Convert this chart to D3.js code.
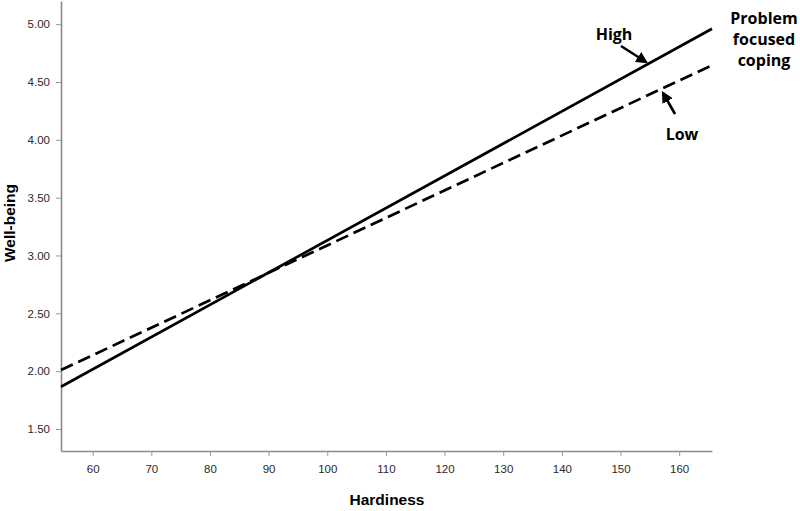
<!DOCTYPE html>
<html>
<head>
<meta charset="utf-8">
<script src="https://cdn.jsdelivr.net/npm/d3@7"></script>
<style>
  body { margin: 0; background: #fff; }
  svg { display: block; }
  .tick text { font-family: "Liberation Sans", Arial, sans-serif; font-size: 11.5px; fill: #2a2a2a; }
</style>
</head>
<body>
<figure id="plot" style="margin:0"></figure>
<script>
// hardiness end points of the fitted lines
var hardiness = [54.6, 165.6];
// predicted well-being, high and low problem focused coping
var highCoping = [1.865, 4.96];
var lowCoping = [2.01, 4.645];
var xTicks = [60, 70, 80, 90, 100, 110, 120, 130, 140, 150, 160];
var yTicks = [1.5, 2.0, 2.5, 3.0, 3.5, 4.0, 4.5, 5.0];

var dims = {
	width: 800,
	height: 511,
	margin: { top: 1, right: 88, bottom: 60, left: 61 }
};
dims.boundedWidth = dims.width - dims.margin.left - dims.margin.right;
dims.boundedHeight = dims.height - dims.margin.top - dims.margin.bottom;

var svg = d3.select("#plot")
	.append("svg")
	.attr("width", dims.width)
	.attr("height", dims.height);

var g = svg.append("g")
	.attr("transform", `translate(${dims.margin.left},${dims.margin.top})`);

var xScale = d3.scaleLinear()
	.domain([54.6, 165.6])
	.range([0, dims.boundedWidth]);

var yScale = d3.scaleLinear()
	.domain([1.31, 5.2])
	.range([dims.boundedHeight, 0]);

// axes
var xAxis = g.append("g")
	.attr("color", "#2a2a2a")
	.attr("transform", `translate(0,${dims.boundedHeight})`)
	.call(d3.axisBottom(xScale)
		.tickValues(xTicks)
		.tickSize(5)
		.tickPadding(9)
		.tickSizeOuter(0));

var yAxis = g.append("g")
	.attr("color", "#2a2a2a")
	.call(d3.axisLeft(yScale)
		.tickValues(yTicks)
		.tickFormat(d3.format(".2f"))
		.tickSize(5)
		.tickPadding(6)
		.tickSizeOuter(0));

[xAxis, yAxis].forEach(function(ax) {
	ax.select(".domain").attr("stroke", "#8a8a8a").attr("stroke-width", 1.6);
	ax.selectAll(".tick line").attr("stroke", "#999").attr("stroke-width", 1);
});

// lines
var series = [
	{ name: "High", values: highCoping, dash: null },
	{ name: "Low", values: lowCoping, dash: "13,6" }
];

var line = d3.line()
	.x(function(d) { return xScale(d[0]); })
	.y(function(d) { return yScale(d[1]); });

g.selectAll(".fit")
	.data(series)
	.enter()
	.append("path")
	.attr("class", "fit")
	.attr("d", d => line(hardiness.map((h, i) => [h, d.values[i]])))
	.attr("fill", "none")
	.attr("stroke", "#000")
	.attr("stroke-width", 2.7)
	.attr("stroke-dasharray", d => d.dash);

// axis titles
svg.append("text")
	.attr("x", 387)
	.attr("y", 505)
	.attr("text-anchor", "middle")
	.style("font-family", "'Liberation Sans', Arial, sans-serif")
	.style("font-weight", "bold")
	.style("font-size", "15.5px")
	.text("Hardiness");

svg.append("text")
	.attr("transform", "translate(15,223) rotate(-90)")
	.attr("text-anchor", "middle")
	.style("font-family", "'Liberation Sans', Arial, sans-serif")
	.style("font-weight", "bold")
	.style("font-size", "15.5px")
	.text("Well-being");

// annotations
svg.append("defs").append("marker")
	.attr("id", "head")
	.attr("viewBox", "0 0 10 10")
	.attr("refX", 8)
	.attr("refY", 5)
	.attr("markerWidth", 4.5)
	.attr("markerHeight", 4.5)
	.attr("orient", "auto")
	.append("path")
	.attr("d", "M0,0 L10,5 L0,10 Z")
	.attr("fill", "#000");

var annFont = "'Open Sans', 'DejaVu Sans', sans-serif";

svg.append("text")
	.attr("x", 614)
	.attr("y", 40)
	.attr("text-anchor", "middle")
	.style("font-family", annFont)
	.style("font-weight", "bold")
	.style("font-size", "16px")
	.text("High");

svg.append("line")
	.attr("x1", 621).attr("y1", 46)
	.attr("x2", 646).attr("y2", 62)
	.attr("stroke", "#000")
	.attr("stroke-width", 2.6)
	.attr("marker-end", "url(#head)");

svg.append("text")
	.attr("x", 682)
	.attr("y", 140)
	.attr("text-anchor", "middle")
	.style("font-family", annFont)
	.style("font-weight", "bold")
	.style("font-size", "16px")
	.text("Low");

svg.append("line")
	.attr("x1", 675).attr("y1", 114)
	.attr("x2", 663).attr("y2", 93)
	.attr("stroke", "#000")
	.attr("stroke-width", 2.6)
	.attr("marker-end", "url(#head)");

var legend = svg.append("text")
	.attr("text-anchor", "middle")
	.style("font-family", annFont)
	.style("font-weight", "bold")
	.style("font-size", "16px");

["Problem", "focused", "coping"].forEach(function(t, i) {
	legend.append("tspan")
		.attr("x", 764)
		.attr("y", 24 + i * 21)
		.text(t);
});
</script>
</body>
</html>
